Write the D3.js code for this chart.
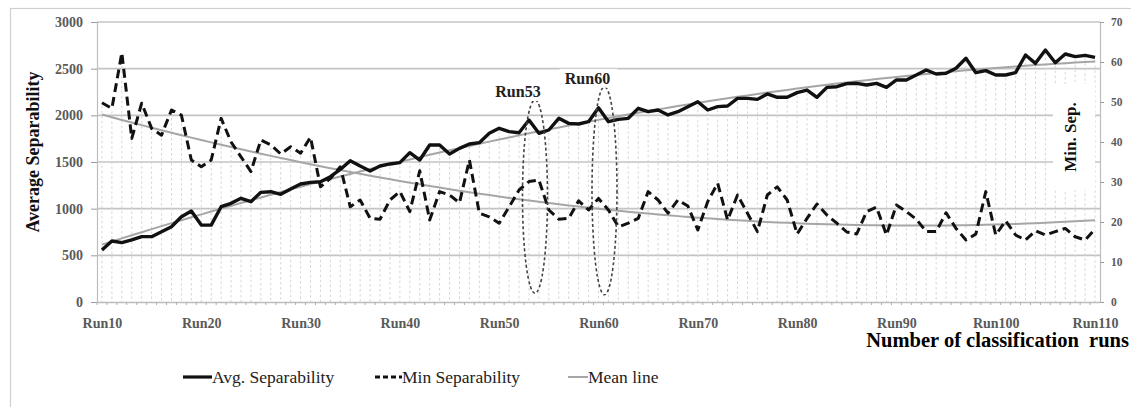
<!DOCTYPE html>
<html>
<head>
<meta charset="utf-8">
<script src="https://cdn.jsdelivr.net/npm/d3@7/dist/d3.min.js"></script>
<style>
  html, body { margin: 0; padding: 0; background: #fff; }
  svg { display: block; }
  text { font-family: "Liberation Serif", "Times New Roman", serif; }
</style>
</head>
<body>
<svg id="chart" width="1131" height="407"></svg>
<script>
// Classification runs Run10 ... Run110
const runs = d3.range(10, 111).map(n => "Run" + n);
const runTicks = d3.range(10, 111, 10).map(n => "Run" + n);

// Average separability per run (left axis)
const avgSep = [
  557, 653, 636, 665, 700, 700, 753, 807, 914, 975,
  825, 824, 1021, 1057, 1111, 1075, 1175, 1182, 1154, 1211,
  1264, 1282, 1289, 1343, 1420, 1514, 1457, 1404, 1457, 1479,
  1493, 1600, 1521, 1682, 1682, 1586, 1646, 1693, 1707, 1807,
  1861, 1825, 1814, 1950, 1807, 1843, 1968, 1914, 1907, 1932,
  2080, 1932, 1957, 1968, 2075, 2039, 2057, 2004, 2039, 2093,
  2146, 2057, 2093, 2100, 2182, 2182, 2171, 2229, 2193, 2193,
  2243, 2271, 2193, 2300, 2307, 2340, 2343, 2325, 2343, 2300,
  2379, 2379, 2432, 2486, 2443, 2450, 2504, 2611, 2457, 2479,
  2432, 2432, 2457, 2646, 2557, 2700, 2564, 2657, 2629, 2643,
  2621
];

// Minimum separability per run (right axis)
const minSep = [
  49.8, 48.4, 62.3, 40.9, 49.7, 43.4, 41.7, 48, 46.7, 35.5,
  33.8, 35.5, 45.9, 40, 36.3, 32.6, 40.5, 39.3, 37, 38.8,
  37.2, 41.2, 28.8, 30.9, 33.8, 23.8, 25.5, 20.9, 20.7, 25.5,
  27.6, 22.6, 32.8, 20.5, 27.6, 26.75, 24.8, 35.5, 22.2, 21.3,
  19.7, 23.8, 28, 30.1, 30.5, 23, 20.7, 20.9, 25.3, 23,
  25.9, 23, 18.8, 19.7, 20.9, 27.6, 25.5, 22.2, 25.5, 24,
  18, 25.1, 29.7, 20.5, 26.75, 22.2, 17.6, 26.75, 28.8, 25.5,
  17, 20.9, 24.5, 21.75, 19.7, 17.5, 17, 22.6, 23.7, 16.75,
  24.25, 22.6, 20.7, 17.6, 17.6, 22.3, 18.4, 15.5, 17, 27.6,
  16.75, 20.3, 16.75, 15.5, 17.8, 16.75, 17.6, 18.4, 16.3, 15.5,
  18.2
];

const leftTicks = [0, 500, 1000, 1500, 2000, 2500, 3000];
const rightTicks = [0, 10, 20, 30, 40, 50, 60, 70];

// Highlighted runs, with the span of the right axis each ellipse covers
const highlights = [
  { run: "Run53", lo: 2.2, hi: 50.5 },
  { run: "Run60", lo: 1.8, hi: 53.8 }
];

const legendItems = ["Avg. Separability", "Min Separability", "Mean line"];

// ---------------------------------------------------------------
const svg = d3.select("#chart");
const plot = { left: 97, right: 1100, top: 22, bottom: 302 };
const SERIF = "Liberation Serif";

const x = d3.scalePoint().domain(runs).range([plot.left, plot.right]).padding(0.5);
const yL = d3.scaleLinear().domain([0, 3000]).range([plot.bottom, plot.top]);
const yR = d3.scaleLinear().domain([0, 70]).range([plot.bottom, plot.top]);

// least-squares quadratic trend over the run index
function quadFit(vals) {
  const s = [0, 0, 0, 0, 0], t = [0, 0, 0];
  vals.forEach((v, i) => {
    for (let k = 0; k < 5; k++) s[k] += Math.pow(i, k);
    for (let k = 0; k < 3; k++) t[k] += v * Math.pow(i, k);
  });
  const M = [[s[0], s[1], s[2], t[0]], [s[1], s[2], s[3], t[1]], [s[2], s[3], s[4], t[2]]];
  for (let c = 0; c < 3; c++) {
    for (let r = c + 1; r < 3; r++) {
      const f = M[r][c] / M[c][c];
      for (let k = c; k < 4; k++) M[r][k] -= f * M[c][k];
    }
  }
  const b = [0, 0, 0];
  for (let r = 2; r >= 0; r--) {
    let acc = M[r][3];
    for (let k = r + 1; k < 3; k++) acc -= M[r][k] * b[k];
    b[r] = acc / M[r][r];
  }
  return vals.map((v, i) => b[0] + b[1] * i + b[2] * i * i);
}
const avgTrend = quadFit(avgSep);
const minTrend = quadFit(minSep);

// outer chart frame
svg.append("rect").attr("x", 10.5).attr("y", 8.5).attr("width", 1140).attr("height", 420)
  .attr("fill", "none").attr("stroke", "#d0d0d0").attr("stroke-width", 1.2);

// horizontal gridlines
svg.append("g").selectAll("line").data(leftTicks.filter(d => d > 0)).join("line")
  .attr("x1", plot.left).attr("x2", plot.right)
  .attr("y1", d => yL(d)).attr("y2", d => yL(d))
  .attr("stroke", "#c4c4c4").attr("stroke-width", 1.6);

// drop lines from the upper series down to the category axis
svg.append("g").selectAll("line").data(runs).join("line")
  .attr("x1", d => x(d)).attr("x2", d => x(d))
  .attr("y1", (d, i) => Math.min(yL(avgSep[i]), yR(minSep[i])) + 3)
  .attr("y2", plot.bottom)
  .attr("stroke", "#d6d6d6").attr("stroke-width", 1).attr("stroke-dasharray", "2.5,2.5");

// left axis
const gL = svg.append("g").attr("transform", `translate(${plot.left},0)`)
  .call(d3.axisLeft(yL).tickValues(leftTicks).tickFormat(d3.format("d")).tickSize(6).tickPadding(8));
gL.select(".domain").attr("stroke", "#bdbdbd").attr("stroke-width", 1.2);
gL.selectAll(".tick line").attr("stroke", "#9a9a9a");
gL.selectAll("text").attr("font-size", 14).attr("font-weight", "bold")
  .attr("fill", "#5a5a5a").style("font-family", SERIF);

// right axis
const gR = svg.append("g").attr("transform", `translate(${plot.right},0)`)
  .call(d3.axisRight(yR).tickValues(rightTicks).tickFormat(d3.format("d")).tickSize(4).tickPadding(7));
gR.select(".domain").attr("stroke", "#bdbdbd").attr("stroke-width", 1.2);
gR.selectAll(".tick line").attr("stroke", "#9a9a9a");
gR.selectAll("text").attr("font-size", 11.5).attr("font-weight", "bold")
  .attr("fill", "#5a5a5a").style("font-family", SERIF);

// bottom axis
const gB = svg.append("g").attr("transform", `translate(0,${plot.bottom})`)
  .call(d3.axisBottom(x).tickValues(runTicks).tickSize(0).tickPadding(16));
gB.select(".domain").attr("stroke", "#bdbdbd").attr("stroke-width", 1.4);
gB.selectAll("text").attr("font-size", 14).attr("font-weight", "bold")
  .attr("fill", "#5a5a5a").style("font-family", SERIF);
svg.append("g").selectAll("line").data(runs).join("line")
  .attr("x1", d => x(d) - x.step() / 2).attr("x2", d => x(d) - x.step() / 2)
  .attr("y1", plot.bottom).attr("y2", plot.bottom + 3)
  .attr("stroke", "#b0b0b0").attr("stroke-width", 1);

// axis titles
svg.append("text").attr("transform", "translate(39,152) rotate(-90)")
  .attr("text-anchor", "middle").attr("font-size", 18).attr("font-weight", "bold")
  .attr("fill", "#111").style("font-family", SERIF).text("Average Separability");
svg.append("rect").attr("x", 1053).attr("y", 84).attr("width", 42).attr("height", 106).attr("fill", "#fff");
svg.append("text").attr("transform", "translate(1076,137) rotate(-90)")
  .attr("text-anchor", "middle").attr("font-size", 17).attr("font-weight", "bold")
  .attr("fill", "#111").style("font-family", SERIF).text("Min. Sep.");
svg.append("text").attr("x", 1129).attr("y", 347).attr("text-anchor", "end")
  .attr("font-size", 20.5).attr("font-weight", "bold").attr("fill", "#000")
  .style("font-family", SERIF).style("white-space", "pre")
  .text("Number of classification  runs");

// trend lines
const idxLine = (scale) => d3.line().x((d, i) => x(runs[i])).y(d => scale(d));
svg.append("path").datum(avgTrend).attr("d", idxLine(yL))
  .attr("fill", "none").attr("stroke", "#a6a6a6").attr("stroke-width", 2);
svg.append("path").datum(minTrend).attr("d", idxLine(yR))
  .attr("fill", "none").attr("stroke", "#a6a6a6").attr("stroke-width", 2);

// series
svg.append("path").datum(minSep).attr("d", idxLine(yR))
  .attr("fill", "none").attr("stroke", "#111").attr("stroke-width", 3)
  .attr("stroke-dasharray", "9,5").attr("stroke-linejoin", "round");
svg.append("path").datum(avgSep).attr("d", idxLine(yL))
  .attr("fill", "none").attr("stroke", "#111").attr("stroke-width", 3.4)
  .attr("stroke-linejoin", "round");

// highlighted runs
highlights.forEach(h => {
  const cx = x(h.run) + 6;
  const top = yR(h.hi), bot = yR(h.lo);
  svg.append("ellipse").attr("cx", cx).attr("cy", (top + bot) / 2)
    .attr("rx", 12.5).attr("ry", (bot - top) / 2)
    .attr("fill", "none").attr("stroke", "#444").attr("stroke-width", 1.6)
    .attr("stroke-dasharray", "3,2.5");
  const lx = cx - 17, ly = top - 3;
  svg.append("rect").attr("x", lx - 28).attr("y", ly - 15).attr("width", 58).attr("height", 19)
    .attr("fill", "#fff").attr("opacity", 0.95);
  svg.append("text").attr("x", lx).attr("y", ly).attr("text-anchor", "middle")
    .attr("font-size", 16).attr("font-weight", "bold").attr("fill", "#222")
    .style("font-family", SERIF).text(h.run);
});

// legend
const lg = svg.append("g").attr("transform", "translate(0,377)");
const legendPos = [183, 375, 568];
legendItems.forEach((name, k) => {
  const x0 = legendPos[k];
  const w = k === 2 ? 20 : (k === 1 ? 27 : 29);
  const ln = lg.append("line").attr("x1", x0).attr("x2", x0 + w).attr("y1", 0).attr("y2", 0);
  if (k === 0) ln.attr("stroke", "#111").attr("stroke-width", 3.2);
  if (k === 1) ln.attr("stroke", "#111").attr("stroke-width", 3).attr("stroke-dasharray", "5,3");
  if (k === 2) ln.attr("stroke", "#a6a6a6").attr("stroke-width", 2);
  lg.append("text").attr("x", x0 + w).attr("y", 6).attr("font-size", 17.5)
    .attr("fill", "#222").style("font-family", SERIF).text(name);
});
</script>
</body>
</html>
